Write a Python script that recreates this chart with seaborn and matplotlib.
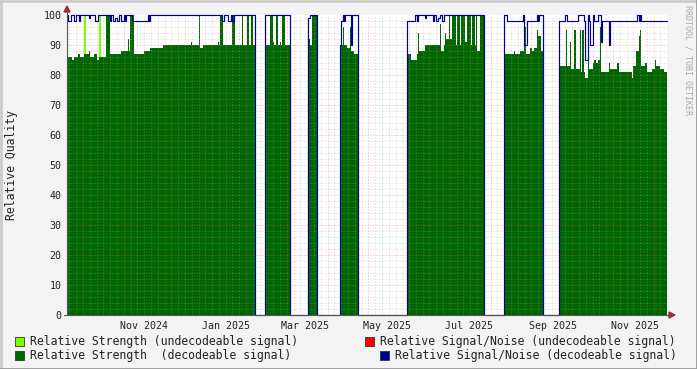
import numpy as np
import pandas as pd
import matplotlib
matplotlib.use("Agg")
import matplotlib.pyplot as plt
import matplotlib.dates as mdates
from matplotlib.patches import Rectangle, Polygon
import seaborn as sns

# ---------------- data (day offsets from first_day, step values) ----------------
first_day = "2024-09-05"
last_day = 446  # end of recorded data (day offset)

# Relative Strength (decodeable signal): value holds from this day until next entry, 0 = no data
strength_day = [0, 4, 5, 8, 10, 13, 16, 17, 20, 22, 24, 29, 32, 40, 45, 46, 47, 50, 57, 62, 71,
                92, 93, 98, 99, 101, 112, 113, 114, 116, 123, 125, 130, 131, 134, 135, 137, 138, 140,
                147, 151, 153, 154, 155, 157, 158, 159, 160, 162, 166,
                179, 181, 182, 186,
                203, 205, 206, 208, 210, 211, 213, 216,
                253, 256, 260, 261, 262, 266, 277, 278, 280, 281, 282, 284, 285, 286, 289, 290,
                292, 293, 296, 297, 300, 301, 303, 304, 305, 307, 310,
                325, 332, 333, 337, 340, 341, 344, 346, 347, 349, 350, 352, 354,
                366, 371, 372, 374, 375, 377, 378, 381, 382, 383, 384, 385, 387, 388, 391, 392,
                393, 395, 396, 397, 403, 404, 409, 410, 420, 421, 423, 425, 426, 427, 430, 431,
                435, 437, 438, 441, 444]
strength_val = [86, 85, 86, 87, 86, 87, 88, 86, 87, 85, 86, 100, 87, 88, 92, 88, 100, 87, 88, 89, 90,
                91, 90, 100, 89, 90, 91, 90, 100, 90, 100, 90, 100, 90, 100, 90, 100, 90, 0,
                90, 100, 91, 90, 100, 90, 91, 90, 100, 90, 0,
                92, 90, 100, 0,
                90, 96, 90, 89, 96, 88, 87, 0,
                87, 85, 87, 94, 88, 90, 97, 88, 90, 94, 92, 100, 92, 100, 90, 100,
                90, 100, 91, 100, 90, 100, 90, 100, 88, 100, 0,
                87, 88, 87, 88, 96, 87, 89, 88, 89, 95, 93, 88, 0,
                83, 95, 83, 91, 82, 95, 82, 95, 81, 95, 81, 79, 87, 82, 84, 85,
                84, 85, 96, 81, 84, 82, 84, 81, 79, 83, 88, 93, 95, 83, 84, 81,
                82, 85, 83, 82, 81]

# Relative Strength (undecodeable signal)
weak_day = [0, 13, 14, 24, 25]
weak_val = [0, 100, 0, 100, 0]

# Relative Signal/Noise (decodeable signal)
snr_day = [0, 1, 3, 5, 7, 9, 10, 16, 17, 21, 23, 32, 33, 34, 36, 37, 39, 40, 42, 43, 44, 48, 60,
           61, 62, 115, 117, 120, 122, 123, 124, 140,
           147, 166,
           179, 181, 186,
           203, 204, 205, 206, 207, 211, 212, 216,
           253, 259, 260, 261, 266, 267, 272, 273, 274, 276, 277, 279, 280, 310,
           325, 327, 339, 340, 342, 349, 350, 351, 354,
           366, 370, 372, 380, 384, 385, 387, 388, 389, 391, 392, 395, 397, 398, 403, 404,
           424, 425, 426, 427]
snr_val = [100, 98, 100, 98, 100, 98, 100, 99, 100, 98, 100, 98, 100, 98, 99, 98, 100, 98, 100, 98, 100, 98, 100,
           98, 100, 98, 100, 98, 100, 98, 100, 0,
           100, 0,
           99, 100, 0,
           90, 98, 100, 98, 100, 90, 100, 0,
           98, 100, 98, 100, 99, 100, 98, 100, 98, 99, 100, 98, 100, 0,
           100, 98, 100, 90, 98, 100, 98, 100, 0,
           98, 100, 98, 100, 98, 85, 100, 98, 90, 100, 98, 100, 91, 98, 90, 98,
           100, 98, 100, 98]

# Relative Signal/Noise (undecodeable signal): no values in range
noise_day = []
noise_val = []

month_ticks = ["2024-11-01", "2025-01-01", "2025-03-01", "2025-05-01",
               "2025-07-01", "2025-09-01", "2025-11-01"]
legend_labels = ["Relative Strength (undecodeable signal)",
                 "Relative Signal/Noise (undecodeable signal)",
                 "Relative Strength  (decodeable signal)",
                 "Relative Signal/Noise (decodeable signal)"]

# ---------------- style ----------------
sns.set_style("white")
plt.rcParams["font.family"] = ["DejaVu Sans Mono"]

C_DARK = "#006600"
C_LIGHT = "#7fff00"
C_BLUE = "#000099"
C_RED = "#ff0000"
BG = "#f3f3f3"
TXT = "#222222"

W, H = 697, 369
fig = plt.figure(figsize=(W / 100, H / 100), dpi=100, facecolor=BG)
ax = fig.add_axes([67 / W, 1 - 315 / H, 600 / W, 300 / H])
ax.set_facecolor("white")

t0 = pd.Timestamp(first_day)


def to_dates(days):
    return [t0 + pd.Timedelta(days=d) for d in days]


def with_end(days, vals):
    return to_dates(list(days) + [last_day]), list(vals) + [vals[-1]]


# undecodeable strength (light green) then decodeable strength (dark green)
wx, wy = with_end(weak_day, weak_val)
ax.fill_between(wx, wy, step="post", color=C_LIGHT, lw=0, zorder=1)
sx, sy = with_end(strength_day, strength_val)
ax.fill_between(sx, sy, step="post", color=C_DARK, lw=0, zorder=2)

# grid (rrdtool style, semi-transparent dotted, drawn over the areas)
GRID_MINOR = dict(color="#a0a0a0", alpha=0.45, lw=0.72, ls=(0, (1, 2)), zorder=3)
GRID_MAJOR = dict(color="#ff5f5f", alpha=0.5, lw=0.72, ls=(0, (1, 2)), zorder=3)
major_step = 30.3
minor_step = major_step / 6
anchor = 224.0
g = anchor - major_step * 8
k = 0
while g <= last_day:
    if g >= 0.5:
        ax.axvline(t0 + pd.Timedelta(days=g), **(GRID_MAJOR if k % 6 == 0 else GRID_MINOR))
    g += minor_step
    k += 1
for yv in range(2, 100, 2):
    ax.axhline(yv, **(GRID_MAJOR if yv % 10 == 0 else GRID_MINOR))

# signal / noise line
nx, ny = with_end(snr_day, snr_val)
df = pd.DataFrame({"t": nx, "v": ny})
sns.lineplot(data=df, x="t", y="v", drawstyle="steps-post", color=C_BLUE,
             lw=0.85, estimator=None, sort=False, ax=ax, legend=False, zorder=5)
for ln in ax.lines:
    ln.set_clip_on(False)

ax.set_xlim(t0, t0 + pd.Timedelta(days=last_day))
ax.set_ylim(0, 100)
ax.set_yticks(range(0, 101, 10))
ax.set_xticks(pd.to_datetime(month_ticks))
ax.xaxis.set_major_formatter(mdates.DateFormatter("%b %Y"))
ax.tick_params(axis="both", length=0, labelsize=7.2, labelcolor=TXT, pad=4)
ax.set_xlabel("")
ax.set_ylabel("")
for s in ax.spines.values():
    s.set_visible(False)


# axes lines and arrows (figure pixels)
def fx(px):
    return px / W


def fy(py):
    return 1 - py / H


fig.add_artist(plt.Line2D([fx(67), fx(67)], [fy(315), fy(10)], color="#555555", lw=0.8))
fig.add_artist(plt.Line2D([fx(64), fx(670)], [fy(315), fy(315)], color="#555555", lw=0.8))
fig.add_artist(Polygon([[fx(64), fy(12)], [fx(70), fy(12)], [fx(67), fy(6)]],
                       closed=True, color="#a03030", transform=fig.transFigure))
fig.add_artist(Polygon([[fx(669), fy(312)], [fx(669), fy(318)], [fx(675), fy(315)]],
                       closed=True, color="#a03030", transform=fig.transFigure))

# labels
fig.text(fx(12), fy(165), "Relative Quality", rotation=90, ha="center", va="center",
         fontsize=8.3, color=TXT)
fig.text(fx(688), fy(60), "RRDTOOL / TOBI OETIKER", rotation=-90, ha="center", va="center",
         fontsize=6.0, color="#aaaaaa")

# legend
legend_colors = [C_LIGHT, C_RED, C_DARK, C_BLUE]
legend_pos = [(15, 341), (365, 341), (15, 355), (380, 355)]
for lab, col, (bx, by) in zip(legend_labels, legend_colors, legend_pos):
    fig.add_artist(Rectangle((fx(bx), fy(by + 5)), 9 / W, 9 / H, transform=fig.transFigure,
                             facecolor=col, edgecolor="#333333", lw=0.6))
    fig.text(fx(bx + 15), fy(by), lab, ha="left", va="center", fontsize=8.3, color=TXT)

# frame shading
fig.add_artist(plt.Line2D([0, 1], [fy(0.5), fy(0.5)], color="#cbcbcb", lw=2))
fig.add_artist(plt.Line2D([fx(0.5), fx(0.5)], [0, 1], color="#cbcbcb", lw=2))
fig.add_artist(plt.Line2D([0, 1], [fy(368.5), fy(368.5)], color="#999999", lw=2))
fig.add_artist(plt.Line2D([fx(696.5), fx(696.5)], [0, 1], color="#999999", lw=2))

fig.savefig("out.png", dpi=100, facecolor=BG)
